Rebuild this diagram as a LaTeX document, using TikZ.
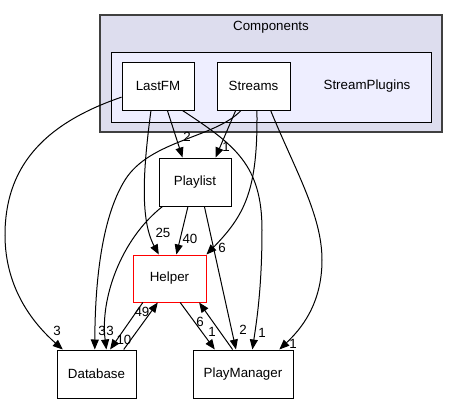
\documentclass[tikz,border=0pt]{standalone}
\usepackage{fontspec}
\setmainfont{Liberation Sans}
\usetikzlibrary{arrows.meta}
\definecolor{outer}{HTML}{DDDDEE}
\definecolor{inner}{HTML}{EEEEFF}
\definecolor{frame}{HTML}{404040}
\definecolor{mark}{HTML}{FF0000}

\begin{document}
\begin{tikzpicture}[
    x=0.75pt, y=-0.75pt,
    font=\fontsize{10}{12}\selectfont,
    dep/.style={-{Triangle[length=7.5pt,width=6pt]}, line width=0.75pt, draw=black},
    dirbox/.style={draw=black, line width=0.75pt, fill=white, inner sep=0pt, minimum height=36pt},
    cluster/.style={draw=frame, line width=0.9pt, fill=outer, inner sep=0pt},
    subcluster/.style={draw=black, line width=0.75pt, fill=inner, inner sep=0pt},
    num/.style={inner sep=0pt},
  ]
\useasboundingbox (0,0) rectangle (458,404);

% --- Clusters: Components holding StreamPlugins ----------------------------
\node[cluster, minimum width=256.5pt, minimum height=87.75pt] (components) at (271,73.5) {};
\node (componentslabel) at (271,27) {Components};
\node[subcluster, minimum width=240pt, minimum height=52.5pt] (streamplugins) at (271,87) {};
\node (streampluginslabel) at (367,86) {StreamPlugins};

% --- Directories ------------------------------------------------------------
\node[dirbox, minimum width=54pt] (lastfm) at (158,86) {LastFM};
\node[dirbox, minimum width=54.75pt] (streams) at (253.5,86) {Streams};
\node[dirbox, minimum width=54pt] (playlist) at (195,182) {Playlist};
\node[dirbox, draw=mark, minimum width=54.75pt, minimum height=35.25pt] (helper) at (169.5,278.5) {Helper};
\node[dirbox, minimum width=59.25pt] (database) at (96.5,374) {Database};
\node[dirbox, minimum width=75pt] (playmanager) at (243,374) {PlayManager};

% --- Straight dependencies, with their counts --------------------------------
\foreach \s/\t/\n/\lx/\ly [count=\k] in {
    lastfm.-69/playlist.117/2/187/137,
    streams.-126/playlist.50/1/226/147,
    playlist.-106/helper.74.5/40/190/239,
    playlist.-69/playmanager.106/2/243/330,
    helper.-138/database.61/10/124/340,
    database.42/helper.-116/49/142/312,
    helper.-66/playmanager.139/1/212/332,
    playmanager.113/helper.-39.5/6/200/322} {
  \draw[dep] (\s) -- (\t);
  \node[num] (n\k) at (\lx,\ly) {\n};
}

% --- Curved dependencies -----------------------------------------------------
\draw[dep] (lastfm.197) .. controls (40,125) and (5,170) .. (5,235)
  .. controls (5,290) and (35,325) .. (database.144);
\node[num] (c1) at (57,331) {3};

\draw[dep] (lastfm.-106) .. controls (143,170) and (140,220) .. (helper.114);
\node[num] (c2) at (163,233) {25};

\draw[dep] (lastfm.-45) .. controls (235,145) and (262,165) .. (262,230)
  .. controls (262,290) and (256,325) .. (playmanager.69);
\node[num] (c3) at (262,333) {1};

\draw[dep] (streams.-117) .. controls (215,138) and (150,140) .. (125,180)
  .. controls (100,220) and (95,290) .. (database.94);
\node[num] (c4) at (102,331) {3};

\draw[dep] (streams.-82) .. controls (258,190) and (245,215) .. (helper.33.5);
\node[num] (c5) at (222,248) {6};

\draw[dep] (streams.-55.5) .. controls (295,170) and (322,215) .. (322,260)
  .. controls (322,305) and (300,330) .. (playmanager.34);
\node[num] (c6) at (293,344) {1};

\draw[dep] (playlist.-143) .. controls (120,240) and (100,300) .. (database.68);
\node[num] (c7) at (110,331) {3};

\end{tikzpicture}
\end{document}
